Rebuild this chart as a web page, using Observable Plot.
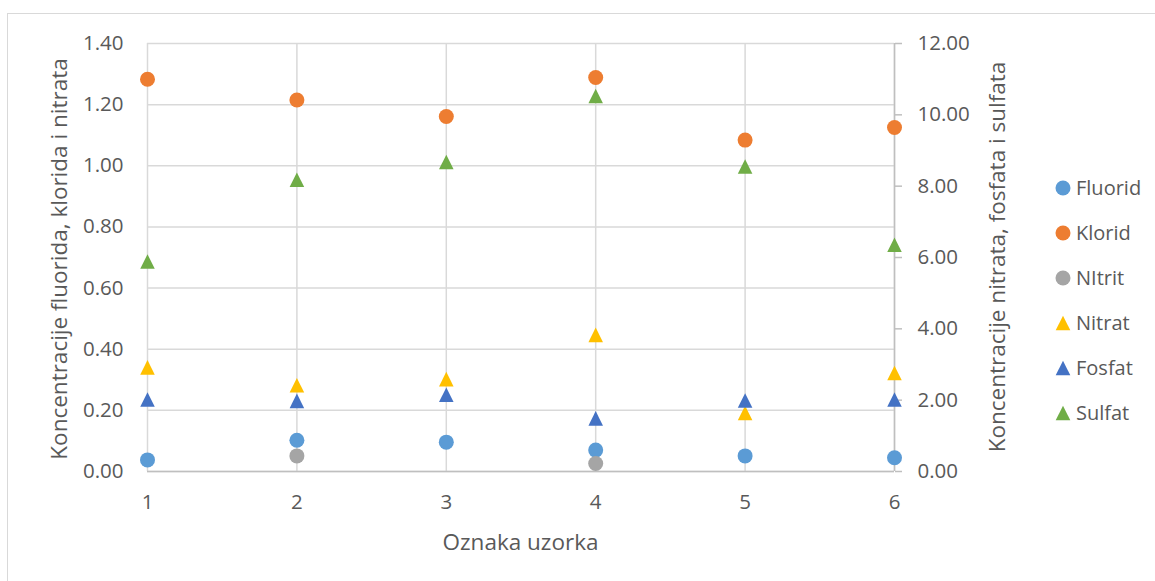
<!DOCTYPE html>
<html>
<head>
<meta charset="utf-8">
<script src="https://cdn.jsdelivr.net/npm/d3@7"></script>
<script src="https://cdn.jsdelivr.net/npm/@observablehq/plot@0.6"></script>
<style>
  html, body { margin: 0; padding: 0; background: #fff; overflow: hidden; }
  #wrap { position: relative; width: 1155px; height: 581px; font-family: "Open Sans", "Noto Sans", sans-serif; color: #595959; }
  #frame { position: absolute; left: 7px; top: 13px; width: 1200px; height: 620px; border: 1.5px solid #d9d9d9; box-sizing: border-box; }
  #chart { position: absolute; left: 0; top: 0; }
  .title { position: absolute; font-size: 22.5px; white-space: nowrap; line-height: 1; }
  .rot { transform: translate(-50%, -50%) rotate(-90deg); }
  .hor { transform: translate(-50%, -50%); }
  #legend { position: absolute; left: 1055px; top: 0; }
  .lg { position: absolute; left: 0; display: flex; align-items: center; font-size: 20px; white-space: nowrap; line-height: 1; }
  .lg svg { margin-right: 5px; }
</style>
</head>
<body>
<div id="wrap">
  <div id="frame"></div>
  <div id="chart"></div>
  <div class="title rot" style="left:59px; top:259px;">Koncentracije fluorida, klorida i nitrata</div>
  <div class="title rot" style="left:997px; top:257px;">Koncentracije nitrata, fosfata i sulfata</div>
  <div class="title hor" style="left:520.5px; top:542px;">Oznaka uzorka</div>
  <div id="legend"></div>
</div>
<script>
// ---- data ----
const samples = [1, 2, 3, 4, 5, 6];
const seriesNames = ["Fluorid", "Klorid", "NItrit", "Nitrat", "Fosfat", "Sulfat"];
const seriesColors = ["#5B9BD5", "#ED7D31", "#A5A5A5", "#FFC000", "#4472C4", "#70AD47"];
const seriesShapes = ["circle", "circle", "circle", "triangle", "triangle", "triangle"];
const seriesAxis = ["left", "left", "left", "right", "right", "right"];
// left-axis series
const fluorid = [0.038, 0.102, 0.096, 0.070, 0.051, 0.045];
const klorid  = [1.283, 1.215, 1.161, 1.289, 1.084, 1.125];
const nitrit  = [null, 0.051, null, 0.026, null, null];
// right-axis series
const nitrat  = [2.92, 2.42, 2.59, 3.83, 1.64, 2.76];
const fosfat  = [2.02, 1.98, 2.15, 1.49, 1.99, 2.02];
const sulfat  = [5.89, 8.18, 8.68, 10.53, 8.55, 6.36];
const leftTicks  = [0, 0.2, 0.4, 0.6, 0.8, 1.0, 1.2, 1.4];
const rightTicks = [0, 2, 4, 6, 8, 10, 12];
const LEFT_MAX = 1.4, RIGHT_MAX = 12;

const seriesValues = [fluorid, klorid, nitrit, nitrat, fosfat, sulfat];
const toLeft = v => v * LEFT_MAX / RIGHT_MAX;

const rows = [];
seriesNames.forEach((name, si) => {
  seriesValues[si].forEach((v, i) => {
    if (v == null) return;
    rows.push({ series: name, sample: samples[i], value: v, axis: seriesAxis[si], shape: seriesShapes[si], color: seriesColors[si] });
  });
});

const triangle = {
  draw(ctx, size) {
    const r = Math.sqrt(size / Math.PI);
    const w = r * 0.97, h = r * 0.97;
    ctx.moveTo(0, -h); ctx.lineTo(w, h); ctx.lineTo(-w, h); ctx.closePath();
  }
};

const yOf = d => d.axis === "left" ? d.value : toLeft(d.value);
const FS = 20.5;

const chart = Plot.plot({
  width: 1155,
  height: 581,
  marginLeft: 147,
  marginRight: 261,
  marginTop: 43,
  marginBottom: 110,
  style: { fontFamily: "'Open Sans', 'Noto Sans', sans-serif", fontSize: FS + "px", color: "#595959", background: "transparent" },
  x: { domain: [1, 6] },
  y: { domain: [0, LEFT_MAX] },
  marks: [
    Plot.gridY(leftTicks, { stroke: "#d9d9d9", strokeOpacity: 1, strokeWidth: 1.5 }),
    Plot.gridX(samples, { stroke: "#d9d9d9", strokeOpacity: 1, strokeWidth: 1.5 }),
    Plot.ruleY([0], { stroke: "#bfbfbf", strokeWidth: 1.5 }),
    Plot.ruleX([6], { stroke: "#bfbfbf", strokeWidth: 1.5 }),
    Plot.axisY(leftTicks, { anchor: "left", tickSize: 0, tickPadding: 24, fontSize: FS, tickFormat: d => d.toFixed(2), label: null }),
    Plot.axisY(rightTicks.map(toLeft), { anchor: "right", tickSize: 7, tickPadding: 16, fontSize: FS, stroke: "#bfbfbf", strokeWidth: 1.5, tickFormat: d => (d * RIGHT_MAX / LEFT_MAX).toFixed(2), label: null }),
    Plot.axisX(samples, { anchor: "bottom", tickSize: 0, tickPadding: 23, fontSize: FS, tickFormat: d => String(d), label: null }),
    Plot.dot(rows.filter(d => d.shape === "circle"), { x: "sample", y: yOf, r: 7.5, fill: "color", stroke: null, symbol: "circle" }),
    Plot.dot(rows.filter(d => d.shape === "triangle"), { x: "sample", y: yOf, r: 7.5, fill: "color", stroke: null, symbol: triangle })
  ]
});
document.getElementById("chart").appendChild(chart);

// ---- legend ----
const legend = document.getElementById("legend");
const legendTop = 188, legendStep = 45;
seriesNames.forEach((name, i) => {
  const row = document.createElement("div");
  row.className = "lg";
  row.style.top = (legendTop + i * legendStep - 10) + "px";
  const s = d3.create("svg").attr("width", 16).attr("height", 20);
  if (seriesShapes[i] === "circle") {
    s.append("circle").attr("cx", 8).attr("cy", 10).attr("r", 7.5).attr("fill", seriesColors[i]);
  } else {
    s.append("path").attr("d", "M8,2.7L15.3,17.3L0.7,17.3Z").attr("fill", seriesColors[i]);
  }
  row.appendChild(s.node());
  const t = document.createElement("span");
  t.textContent = name;
  row.appendChild(t);
  legend.appendChild(row);
});
</script>
</body>
</html>
